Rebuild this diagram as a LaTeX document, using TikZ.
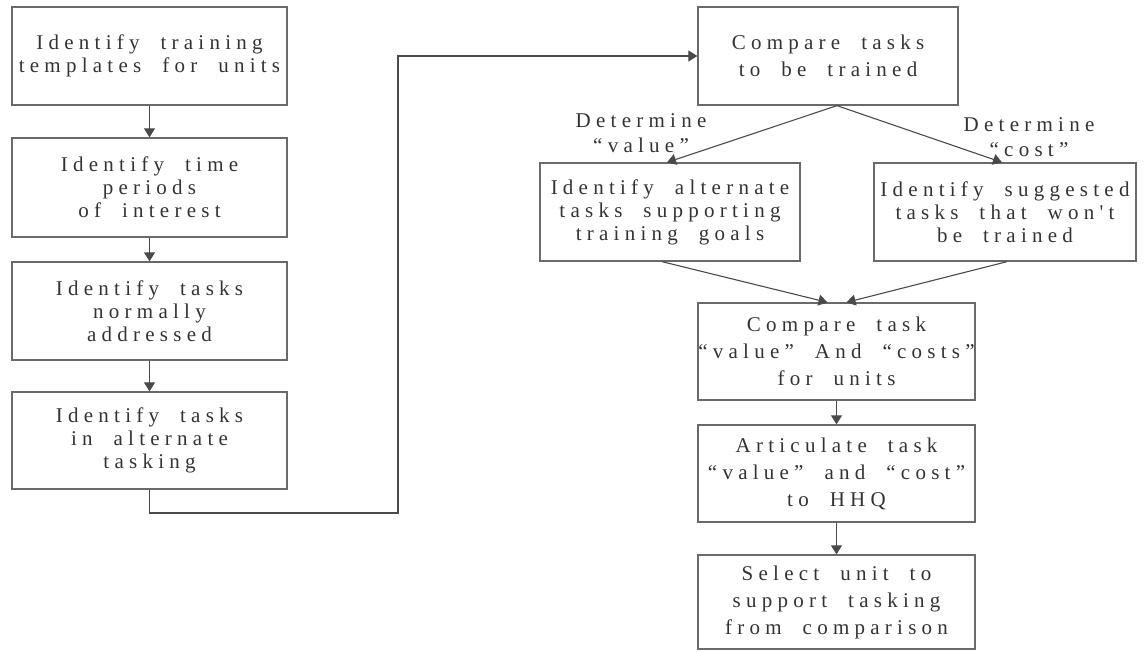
\documentclass[tikz,border=0pt]{standalone}
\usepackage{fontspec}
\setmainfont{Liberation Serif}
\newfontfamily\spc[LetterSpace=25,WordSpace=2]{Liberation Serif}
\usetikzlibrary{arrows.meta}
\definecolor{boxc}{HTML}{6A6A6A}
\definecolor{linec}{HTML}{4A4A4A}
\definecolor{txt}{HTML}{333333}
\begin{document}
\begin{tikzpicture}[x=1pt,y=-1pt,
  box/.style={draw=boxc, line width=1.3pt, align=center, text=txt, inner sep=0pt,
    font=\spc\fontsize{21}{23}\selectfont},
  rbox/.style={box, font=\spc\fontsize{21}{27}\selectfont},
  lab/.style={align=center, text=txt, inner sep=0pt, font=\spc\fontsize{21}{25}\selectfont},
  arr/.style={draw=linec, line width=1.1pt, -{Triangle[width=11pt,length=9pt]}}]
\useasboundingbox (0,0) rectangle (1145,651);
% left column
\node[box, minimum width=275pt, minimum height=98pt] (L1) at (149.5,56) {Identify training\\templates for units};
\node[box, minimum width=275pt, minimum height=99pt] (L2) at (149.5,187.5) {Identify time\\periods\\of interest};
\node[box, minimum width=275pt, minimum height=98pt] (L3) at (149.5,311) {Identify tasks\\normally\\addressed};
\node[box, minimum width=275pt, minimum height=97pt] (L4) at (149.5,440.5) {Identify tasks\\in alternate\\tasking};
% right part
\node[rbox, minimum width=260pt, minimum height=98pt] (R0) at (828,56) {Compare tasks\\to be trained};
\node[box, minimum width=260pt, minimum height=98pt] (RA) at (670,212) {Identify alternate\\tasks supporting\\training goals};
\node[box, minimum width=262pt, minimum height=98pt] (RB) at (1005,212) {Identify suggested\\tasks that won't\\be trained};
\node[rbox, minimum width=277pt, minimum height=97pt] (RC) at (836.5,351.5) {Compare task\\“value” And “costs”\\for units};
\node[rbox, minimum width=277pt, minimum height=97pt] (RD) at (836.5,473.5) {Articulate task\\“value” and “cost”\\to HHQ};
\node[rbox, minimum width=277pt, minimum height=94pt] (RE) at (836.5,602) {Select unit to\\support tasking\\from comparison};
% labels
\node[lab] (la) at (641,133) {Determine\\“value”};
\node[lab] (lb) at (1029,137) {Determine\\“cost”};
% connectors
\coordinate (k) at (398,513);
\draw[arr] (L1) -- (L2);
\draw[arr] (L2) -- (L3);
\draw[arr] (L3) -- (L4);
\draw[arr] (L4.south) |- (k) |- (R0.west);
\draw[arr] ([xshift=9pt]R0.south) -- ([xshift=-3pt]RA.north);
\draw[arr] ([xshift=9pt]R0.south) -- ([xshift=-3pt]RB.north);
\draw[arr] ([xshift=-8pt]RA.south) -- ([xshift=-9pt]RC.north);
\draw[arr] ([xshift=2pt]RB.south) -- ([xshift=10pt]RC.north);
\draw[arr] (RC) -- (RD);
\draw[arr] (RD) -- (RE);
\end{tikzpicture}
\end{document}
